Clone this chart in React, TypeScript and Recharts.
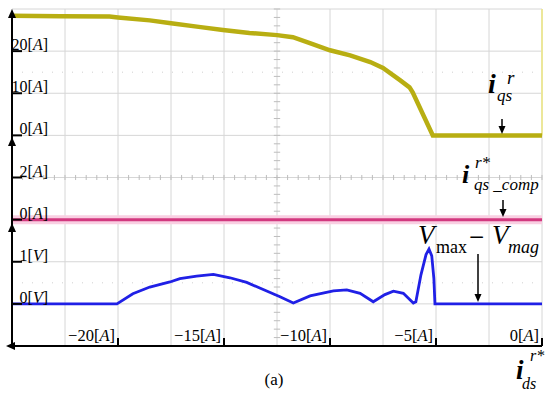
import React from "react";
import { LineChart, Line, XAxis, YAxis, ReferenceLine } from "recharts";

// --- waveform data read off the scope capture ---
// x axis: commanded d-axis current i_ds^r* [A]
const IQS_X = [-25, -22.7, -20.4, -20, -18.5, -17.5, -16.1, -15.05, -13.8, -12.5, -11.75, -10.95, -10, -9.05, -8.1, -7.5, -6.7, -6.25, -6.1, -5.15, 0];
const IQS_A = [28.4, 28.3, 28.2, 28.0, 27.3, 26.6, 25.7, 25.0, 24.3, 23.8, 23.3, 21.9, 20.2, 19.0, 17.4, 16.0, 13.1, 11.4, 10.2, 0, 0];

const COMP_X = [-25, -20, -15, -10, -5, 0];
const COMP_A = [0, 0, 0, 0, 0, 0];

const VDIFF_X = [-25, -20.05, -19.3, -18.5, -17.55, -17.08, -16.29, -15.5, -14.72, -13.93, -13.15, -12.36, -11.73, -10.94, -9.84, -9.21, -8.58, -7.96, -7.41, -7.01, -6.54, -6.07, -5.95, -5.71, -5.47, -5.33, -5.2, -5.1, -5.05, 0];
const VDIFF_V = [0, 0, 0.24, 0.4, 0.52, 0.6, 0.66, 0.7, 0.62, 0.51, 0.34, 0.17, 0.02, 0.19, 0.31, 0.33, 0.25, 0.05, 0.22, 0.3, 0.25, 0.02, 0.05, 0.69, 1.17, 1.3, 1.14, 0.6, 0, 0];

const X_TICKS = [-20, -15, -10, -5, 0];
const IQS_TICKS = [0, 10, 20];
const COMP_TICKS = [0, 2];
const VDIFF_TICKS = [0, 1];

// graticule: 10 x 8 divisions (one division = 2.5 A across, 1 V of the bottom channel up)
const GRID_X = [-25, -22.5, -20, -17.5, -15, -12.5, -10, -7.5, -5, -2.5, 0];
const GRID_Y = [-1, 0, 1, 2, 3, 4, 5, 6, 7];

const W = 550;
const H = 395;
const PLOT_LEFT = 12;
const PLOT_TOP = 9;
const PLOT_BOTTOM = 346;
const FONT = "'Liberation Serif', 'Times New Roman', serif";

const iqsData = IQS_X.map((x, i) => ({ x, v: IQS_A[i] }));
const compData = COMP_X.map((x, i) => ({ x, v: COMP_A[i] }));
const vdiffData = VDIFF_X.map((x, i) => ({ x, v: VDIFF_V[i] }));

// minor ticks on the centre cross of the scope screen
const minorX: number[] = [];
for (let i = 0; i <= 50; i++) minorX.push(-25 + i * 0.5);
const minorY: number[] = [];
for (let i = 0; i <= 40; i++) minorY.push(-1 + i * 0.2);

const makeYTick = (unit: string) => (props: any) => {
  const { payload } = props;
  const y = props.y;
  return (
    <g>
      <line x1={PLOT_LEFT} x2={PLOT_LEFT + 10} y1={y} y2={y} stroke="#000" strokeWidth={2} />
      <text x={48} y={y - 1} textAnchor="end" fontFamily={FONT} fontSize={16} fill="#000">
        {payload.value}[<tspan fontStyle="italic">{unit}</tspan>]
      </text>
    </g>
  );
};

const XTick = (props: any) => {
  const { x, payload } = props;
  const v = payload.value;
  const label = v < 0 ? `\u2212${Math.abs(v)}` : `${v}`;
  return (
    <g>
      <line x1={x} x2={x} y1={PLOT_BOTTOM - 8} y2={PLOT_BOTTOM} stroke="#000" strokeWidth={2} />
      <text x={x - 3} y={PLOT_BOTTOM - 5} textAnchor="end" fontFamily={FONT} fontSize={16.5} fill="#000">
        {label}[<tspan fontStyle="italic">A</tspan>]
      </text>
    </g>
  );
};

const upArrow = (y: number) => `${PLOT_LEFT},${y} ${PLOT_LEFT - 4},${y + 9} ${PLOT_LEFT + 4},${y + 9}`;
const downArrow = (x: number, y: number) => `${x},${y} ${x - 3.5},${y - 8} ${x + 3.5},${y - 8}`;

export default function App() {
  return (
    <div style={{ position: "absolute", left: 0, top: 0, width: W, height: H, background: "#fff" }}>
      <LineChart
        width={W}
        height={H}
        margin={{ top: PLOT_TOP, right: 8, left: PLOT_LEFT, bottom: 19 }}
      >
        <XAxis
          dataKey="x"
          type="number"
          domain={[-25, 0]}
          ticks={X_TICKS}
          allowDataOverflow
          height={30}
          axisLine={{ stroke: "#000", strokeWidth: 2 }}
          tickLine={false}
          tick={<XTick />}
        />
        <YAxis
          yAxisId="iqs"
          type="number"
          domain={[-50, 30]}
          ticks={IQS_TICKS}
          allowDataOverflow
          mirror
          axisLine={false}
          tickLine={false}
          tick={makeYTick("A")}
        />
        <YAxis
          yAxisId="comp"
          type="number"
          domain={[-6, 10]}
          ticks={COMP_TICKS}
          allowDataOverflow
          mirror
          axisLine={false}
          tickLine={false}
          tick={makeYTick("A")}
        />
        <YAxis
          yAxisId="vdiff"
          type="number"
          domain={[-1, 7]}
          ticks={VDIFF_TICKS}
          allowDataOverflow
          mirror
          axisLine={false}
          tickLine={false}
          tick={makeYTick("V")}
        />

        {/* scope graticule */}
        {GRID_X.map((gx) => (
          <ReferenceLine key={`gx${gx}`} yAxisId="vdiff" x={gx} stroke="#d6d6d6" strokeWidth={1} />
        ))}
        {GRID_Y.map((gy) => (
          <ReferenceLine key={`gy${gy}`} yAxisId="vdiff" y={gy} stroke="#d6d6d6" strokeWidth={1} />
        ))}
        <ReferenceLine yAxisId="vdiff" y={5.5} stroke="#cfcfcf" strokeDasharray="1 9" />
        <ReferenceLine yAxisId="vdiff" y={0.5} stroke="#cfcfcf" strokeDasharray="1 9" />
        {minorX.map((mx) => (
          <ReferenceLine
            key={`mx${mx}`}
            yAxisId="vdiff"
            segment={[{ x: mx, y: 2.94 }, { x: mx, y: 3.06 }]}
            stroke="#bdbdbd"
          />
        ))}
        {minorY.map((my) => (
          <ReferenceLine
            key={`my${my}`}
            yAxisId="vdiff"
            segment={[{ x: -12.65, y: my }, { x: -12.35, y: my }]}
            stroke="#bdbdbd"
          />
        ))}
        <ReferenceLine
          yAxisId="iqs"
          segment={[{ x: 0, y: 0 }, { x: 0, y: 30 }]}
          stroke="#ece79a"
          strokeWidth={2}
        />
        <ReferenceLine yAxisId="comp" y={0} stroke="#f9cfe2" strokeWidth={9} />

        <Line
          yAxisId="iqs"
          data={iqsData}
          dataKey="v"
          type="linear"
          stroke="#b8ae12"
          strokeWidth={4.5}
          dot={false}
          isAnimationActive={false}
        />
        <Line
          yAxisId="comp"
          data={compData}
          dataKey="v"
          type="linear"
          stroke="#d2387f"
          strokeWidth={3}
          dot={false}
          isAnimationActive={false}
        />
        <Line
          yAxisId="vdiff"
          data={vdiffData}
          dataKey="v"
          type="linear"
          stroke="#2020e6"
          strokeWidth={2.8}
          dot={false}
          isAnimationActive={false}
        />
      </LineChart>

      <svg
        width={W}
        height={H}
        style={{ position: "absolute", left: 0, top: 0, pointerEvents: "none" }}
        fontFamily={FONT}
      >
        {/* channel axes */}
        <line x1={PLOT_LEFT} x2={PLOT_LEFT} y1={12} y2={PLOT_BOTTOM + 1} stroke="#000" strokeWidth={2} />
        <polygon points={upArrow(9)} fill="#000" />
        <polygon points={upArrow(137)} fill="#000" />
        <polygon points={upArrow(223)} fill="#000" />
        <polygon points={`6,${PLOT_BOTTOM} 15,${PLOT_BOTTOM - 4} 15,${PLOT_BOTTOM + 4}`} fill="#000" />

        {/* i_qs^r */}
        <text x={488} y={93} fontSize={28} fontStyle="italic" fontWeight="bold">i</text>
        <text x={507} y={84} fontSize={19} fontStyle="italic">r</text>
        <text x={497} y={101} fontSize={17} fontStyle="italic">qs</text>
        <line x1={502} x2={502} y1={119} y2={128} stroke="#000" strokeWidth={1.5} />
        <polygon points={downArrow(502, 134)} fill="#000" />

        {/* i_qs_comp^r* */}
        <text x={462} y={183} fontSize={26} fontStyle="italic" fontWeight="bold">i</text>
        <text x={475} y={168} fontSize={17} fontStyle="italic">r*</text>
        <text x={474} y={190} fontSize={17} fontStyle="italic">qs _comp</text>
        <line x1={503} x2={503} y1={200} y2={211} stroke="#000" strokeWidth={1.5} />
        <polygon points={downArrow(503, 217)} fill="#000" />

        {/* V_max - V_mag */}
        <text x={418} y={244} fontSize={27} fontStyle="italic">V</text>
        <text x={436} y={253} fontSize={18}>max</text>
        <text x={469} y={246} fontSize={27}>{"\u2212"}</text>
        <text x={492} y={244} fontSize={27} fontStyle="italic">V</text>
        <text x={508} y={253} fontSize={18} fontStyle="italic">mag</text>
        <line x1={478} x2={478} y1={254} y2={295} stroke="#000" strokeWidth={1.5} />
        <polygon points={downArrow(478, 302)} fill="#000" />

        {/* x axis name */}
        <text x={516} y={379} fontSize={27} fontStyle="italic" fontWeight="bold">i</text>
        <text x={530} y={361} fontSize={16} fontStyle="italic">r*</text>
        <text x={522} y={389} fontSize={16} fontStyle="italic">ds</text>

        <text x={274} y={385} fontSize={17} textAnchor="middle">(a)</text>
      </svg>
    </div>
  );
}
